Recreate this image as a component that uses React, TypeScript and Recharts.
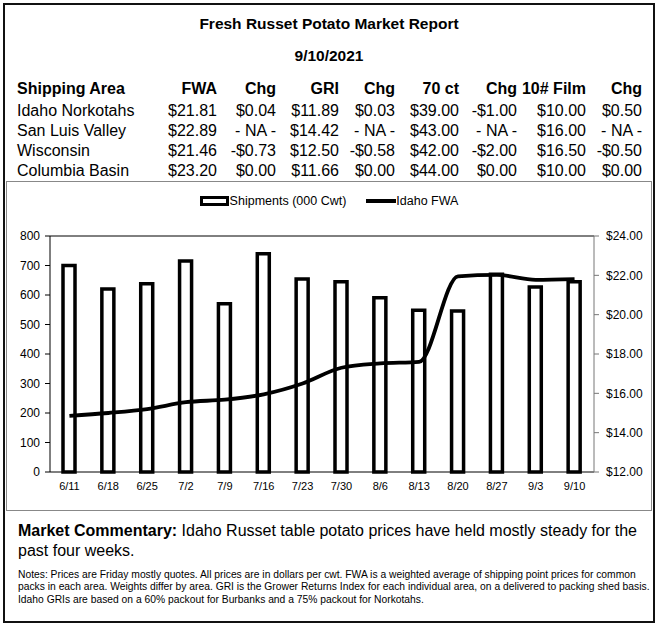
import React from "react"
import {
  ComposedChart,
  Bar,
  Line,
  XAxis,
  YAxis,
  Legend,
  ReferenceLine,
} from "recharts"

// weekly chart data
const weeks = ["6/11", "6/18", "6/25", "7/2", "7/9", "7/16", "7/23", "7/30", "8/6", "8/13", "8/20", "8/27", "9/3", "9/10"]
const shipments = [700, 620, 638, 715, 570, 740, 654, 645, 591, 548, 546, 670, 627, 645]
const idahoFwa = [14.85, 15.0, 15.2, 15.55, 15.68, 15.95, 16.5, 17.3, 17.52, 17.6, 21.95, 22.02, 21.77, 21.81]

const shipTicks = [0, 100, 200, 300, 400, 500, 600, 700, 800]
const priceTicks = [12, 14, 16, 18, 20, 22, 24]
// category boundaries, for the between-category tick marks
const weekBounds = [...weeks.map((_, i) => i), weeks.length]

// price table
const headers = ["Shipping Area", "FWA", "Chg", "GRI", "Chg", "70 ct", "Chg", "10# Film", "Chg"]
const areas = ["Idaho Norkotahs", "San Luis Valley", "Wisconsin", "Columbia Basin"]
const fwa = ["$21.81", "$22.89", "$21.46", "$23.20"]
const fwaChg = ["$0.04", "- NA -", "-$0.73", "$0.00"]
const gri = ["$11.89", "$14.42", "$12.50", "$11.66"]
const griChg = ["$0.03", "- NA -", "-$0.58", "$0.00"]
const ct70 = ["$39.00", "$43.00", "$42.00", "$44.00"]
const ct70Chg = ["-$1.00", "- NA -", "-$2.00", "$0.00"]
const film10 = ["$10.00", "$16.00", "$16.50", "$10.00"]
const film10Chg = ["$0.50", "- NA -", "-$0.50", "$0.00"]

const notes = [
  "Notes: Prices are Friday mostly quotes. All prices are in dollars per cwt. FWA is a weighted average of shipping point prices for  common",
  "packs in each area. Weights differ by area. GRI is the Grower Returns Index for each individual area, on a delivered to packing shed basis.",
  "Idaho GRIs are based on a 60% packout for Burbanks and a 75% packout for Norkotahs.",
]

const FONT = "'Liberation Sans', Arial, sans-serif"
const colRight = [217, 276, 339, 395, 459, 517, 586, 642]

const chartData = weeks.map((w, i) => ({
  week: w,
  "Shipments (000 Cwt)": shipments[i],
  "Idaho FWA": idahoFwa[i],
}))

const valueCols = [fwa, fwaChg, gri, griChg, ct70, ct70Chg, film10, film10Chg]

function WeekTick(props: any) {
  const { x, y, payload } = props
  return (
    <text x={x} y={y + 18} textAnchor="middle" fontSize={11} fill="#000" fontFamily={FONT}>
      {payload.value}
    </text>
  )
}

// short mark crossing the axis
function BoundTick(props: any) {
  const { x, y } = props
  return <line x1={x} x2={x} y1={y - 4} y2={y + 4} stroke="#000" />
}

function LegendBox() {
  return (
    <div style={{ height: 46, fontFamily: FONT, fontSize: 12.5, color: "#000" }}>
      <div style={{ height: 22, display: "flex", justifyContent: "center", alignItems: "center" }}>
        <svg width={30} height={10}>
          <rect x={1.5} y={1.5} width={26} height={7} fill="#fff" stroke="#000" strokeWidth={3} />
        </svg>
        <span style={{ marginRight: 20 }}>Shipments (000 Cwt)</span>
        <svg width={30} height={10}>
          <line x1={0} x2={30} y1={5} y2={5} stroke="#000" strokeWidth={4} />
        </svg>
        <span>Idaho FWA</span>
      </div>
    </div>
  )
}

export default function App() {
  return (
    <div
      style={{
        position: "absolute",
        left: 0,
        top: 0,
        width: 658,
        height: 627,
        background: "#fff",
        fontFamily: FONT,
        color: "#000",
      }}
    >
      {/* outer frame */}
      <div
        style={{
          position: "absolute",
          left: 3,
          top: 3,
          width: 652,
          height: 620,
          border: "2.5px solid #111",
          boxSizing: "border-box",
        }}
      />

      <div style={{ position: "absolute", left: 0, width: 658, top: 14, lineHeight: "20px", textAlign: "center", fontWeight: "bold", fontSize: 15.5 }}>
        Fresh Russet Potato Market Report
      </div>
      <div style={{ position: "absolute", left: 0, width: 658, top: 46, lineHeight: "20px", textAlign: "center", fontWeight: "bold", fontSize: 15.5 }}>
        9/10/2021
      </div>

      {/* table header */}
      <div style={{ position: "absolute", left: 17, top: 79, lineHeight: "20px", fontSize: 16, fontWeight: "bold" }}>
        {headers[0]}
      </div>
      {headers.slice(1).map((h, c) => (
        <div
          key={"h" + c}
          style={{ position: "absolute", right: 658 - colRight[c], top: 79, lineHeight: "20px", fontSize: 16, fontWeight: "bold", whiteSpace: "nowrap" }}
        >
          {h}
        </div>
      ))}
      {areas.map((a, r) => (
        <React.Fragment key={a}>
          <div style={{ position: "absolute", left: 17, top: 101 + r * 20, lineHeight: "20px", fontSize: 16 }}>{a}</div>
          {valueCols.map((col, c) => (
            <div
              key={c}
              style={{ position: "absolute", right: 658 - colRight[c], top: 101 + r * 20, lineHeight: "20px", fontSize: 16, whiteSpace: "nowrap" }}
            >
              {col[r]}
            </div>
          ))}
        </React.Fragment>
      ))}

      {/* chart box */}
      <div
        style={{
          position: "absolute",
          left: 6,
          top: 181,
          width: 646,
          height: 330,
          border: "1px solid #888",
          boxSizing: "border-box",
        }}
      />
      <div style={{ position: "absolute", left: 7, top: 182 }}>
        <ComposedChart
          width={644}
          height={328}
          data={chartData}
          margin={{ top: 8, right: 0, bottom: 8, left: 0 }}
        >
          <Legend verticalAlign="top" content={() => <LegendBox />} />
          <XAxis
            dataKey="week"
            height={30}
            tickLine={false}
            tickSize={0}
            tickMargin={0}
            axisLine={{ stroke: "#000" }}
            tick={<WeekTick />}
            interval={0}
          />
          <XAxis
            xAxisId="bounds"
            type="number"
            mirror
            height={0}
            domain={[0, weeks.length]}
            allowDataOverflow
            ticks={weekBounds}
            interval={0}
            axisLine={false}
            tickLine={false}
            tickSize={0}
            tickMargin={0}
            tick={<BoundTick />}
          />
          <YAxis
            yAxisId="left"
            width={43}
            domain={[0, 800]}
            ticks={shipTicks}
            tickSize={5}
            tickMargin={5}
            axisLine={{ stroke: "#000" }}
            tickLine={{ stroke: "#000" }}
            tick={{ fill: "#000", fontSize: 12, fontFamily: FONT }}
            interval={0}
          />
          <YAxis
            yAxisId="right"
            orientation="right"
            width={57}
            domain={[12, 24]}
            ticks={priceTicks}
            tickSize={5}
            tickMargin={7}
            axisLine={{ stroke: "#777" }}
            tickLine={{ stroke: "#777" }}
            tick={{ fill: "#000", fontSize: 12, fontFamily: FONT }}
            tickFormatter={(v: number) => `$${v.toFixed(2)}`}
            interval={0}
          />
          <ReferenceLine yAxisId="left" y={800} stroke="#000" strokeWidth={1} />
          <Bar
            yAxisId="left"
            dataKey="Shipments (000 Cwt)"
            fill="#fff"
            stroke="#000"
            strokeWidth={3.5}
            barSize={12}
            isAnimationActive={false}
          />
          <Line
            yAxisId="right"
            type="monotone"
            dataKey="Idaho FWA"
            stroke="#000"
            strokeWidth={3.8}
            dot={false}
            activeDot={false}
            isAnimationActive={false}
          />
        </ComposedChart>
      </div>

      {/* commentary */}
      <div style={{ position: "absolute", left: 18, top: 521, width: 630, fontSize: 16, lineHeight: "20px" }}>
        <b>Market Commentary:</b> Idaho Russet table potato prices have held mostly steady for the
        <br />
        past four weeks.
      </div>
      <div style={{ position: "absolute", left: 18, top: 568.5, fontSize: 10.3, lineHeight: "12.7px", whiteSpace: "nowrap" }}>
        {notes.map((n) => (
          <div key={n}>{n}</div>
        ))}
      </div>
    </div>
  )
}
